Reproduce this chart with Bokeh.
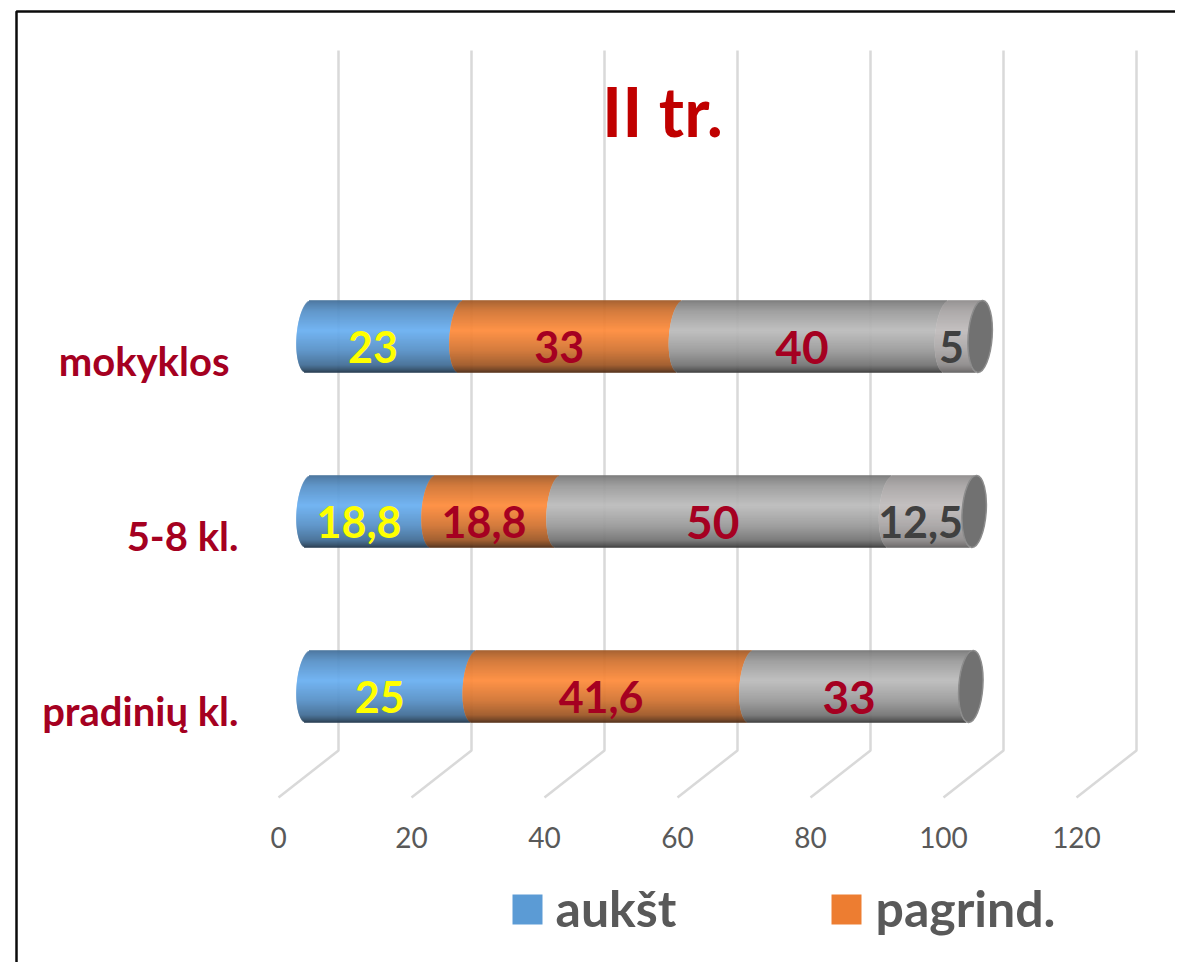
import numpy as np
from bokeh.plotting import figure
from bokeh.models import FixedTicker, Range1d
from bokeh.core.properties import value
from bokeh.embed import file_html
from bokeh.resources import INLINE

# ---- data ----
categories = ["pradinių kl.", "5-8 kl.", "mokyklos"]
aukst = [25, 18.8, 23]
pagrind = [41.6, 18.8, 33]
third = [33, 50, 40]
fourth = [0, 12.5, 5]
x_ticks = [0, 20, 40, 60, 80, 100, 120]
title_text = "II tr."
legend_names = ["aukšt", "pagrind."]

# ---- styling ----
FONT = value("Lato")
series = [aukst, pagrind, third, fourth]
peak = [(106, 176, 242), (255, 140, 60), (188, 188, 188), (192, 188, 188)]
shade_flatten = [1.0, 1.0, 1.0, 0.7]
label_colors = ["#FFFF00", "#A50021", "#A50021", "#404040"]
label_sizes = ["43px", "43px", "46px", "43px"]

W, H = 1175, 962
PX_X = 6.65          # pixels per x unit
PX_Y = 175.0         # pixels per category
X0_PAGE, Y0_PAGE = 278.0, 710.0   # picture position of data (0, 0)


def fx(px):
    return (px - X0_PAGE) / PX_X


def fy(py):
    return (Y0_PAGE - py) / PX_Y


p = figure(width=W, height=H, output_backend="svg", toolbar_location=None,
           x_range=Range1d(fx(0), fx(W)), y_range=Range1d(fy(H), fy(0)),
           min_border=0, outline_line_color=None, background_fill_color="white",
           border_fill_color="white")
p.yaxis.visible = False
p.grid.visible = False

# border of the picture
p.line([fx(16), fx(16), fx(W)], [fy(H), fy(11), fy(11)], line_color="#0b0b0b", line_width=2.5)

# 3-D "wall" gridlines
DX = 60 / PX_X
DY = 47 / PX_Y
GRID_TOP, GRID_BACK, GRID_FRONT = fy(50), fy(750), fy(797)
p.multi_line([[t, t + DX, t + DX] for t in x_ticks],
             [[GRID_FRONT, GRID_BACK, GRID_TOP] for _ in x_ticks],
             line_color="#D9D9D9", line_width=2.5)

# x axis
p.xaxis.fixed_location = fy(815)
p.xaxis.ticker = FixedTicker(ticks=x_ticks)
p.xaxis.axis_line_color = None
p.xaxis.major_tick_line_color = None
p.xaxis.minor_tick_line_color = None
p.xaxis.major_label_text_font = "Lato"
p.xaxis.major_label_text_font_size = "28px"
p.xaxis.major_label_text_color = "#595959"
p.xaxis.major_label_standoff = 5

# cylinders
BAR_X = DX / 2
BAR_Y = DY / 2 + 0.003
BAR_H = 72 / PX_Y
N = 72
t = (np.arange(N) + 0.5) / N                  # 0 = top of bar, 1 = bottom
shade = np.interp(t, [0, 0.05, 0.15, 0.42, 0.7, 0.9, 0.97, 1.0],
                  [0.62, 0.70, 0.82, 1.0, 0.82, 0.62, 0.42, 0.30])
bulge = 12.0 / PX_X * np.sqrt(1 - (2 * t - 1) ** 2)
skew = 2.5 / PX_X * (1 - 2 * t)


def hexcol(rgb, k):
    return "#%02x%02x%02x" % tuple(int(min(255, c * k)) for c in rgb)


for row in range(len(categories)):
    left = 0.0
    yc = row + BAR_Y
    ys = yc + BAR_H * (0.5 - t)
    for s, vals in enumerate(series):
        v = vals[row]
        if v:
            ks = 1 - (1 - shade) * shade_flatten[s]
            p.hbar(y=ys, height=BAR_H / N * 1.35,
                   left=left + BAR_X - bulge + skew,
                   right=left + v + BAR_X - bulge + skew,
                   fill_color=[hexcol(peak[s], k) for k in ks], line_color=None)
        left += v
    p.ellipse(x=[left + BAR_X], y=[yc], width=24 / PX_X, height=BAR_H, angle=-0.07,
              fill_color="#717171", line_color="#8c8c8c", line_width=1.5)

# data labels
LX = -12 / PX_X
LY = -11 / PX_Y
for s, vals in enumerate(series):
    xs, ys, txt = [], [], []
    for row, v in enumerate(vals):
        if v:
            start = sum(series[k][row] for k in range(s))
            xs.append(start + v / 2 + BAR_X + LX)
            ys.append(row + BAR_Y + LY)
            txt.append(f"{v:g}".replace(".", ","))
    p.text(x=xs, y=ys, text=txt, text_font=FONT, text_font_style="bold",
           text_font_size=label_sizes[s], text_color=label_colors[s],
           text_align="center", text_baseline="middle")

# category labels
label_right = [fx(238), fx(238), fx(229)]
p.text(x=label_right, y=list(range(len(categories))), text=categories, text_font=FONT,
       text_font_style="bold", text_font_size="40px", text_color="#A50021",
       text_align="right", text_baseline="middle")

# title
p.text(x=[fx(662)], y=[fy(110)], text=[title_text], text_font=FONT, text_font_style="bold",
       text_font_size="68px", text_color="#C00000", text_align="center", text_baseline="middle")

# legend
p.rect(x=[fx(527), fx(846)], y=[fy(909), fy(909)], width=30, height=30,
       width_units="screen", height_units="screen",
       fill_color=["#5B9BD5", "#ED7D31"], line_color=None)
p.text(x=[fx(555), fx(875)], y=[fy(907), fy(907)], text=legend_names, text_font=FONT,
       text_font_style="bold", text_font_size="50px", text_color="#595959",
       text_align="left", text_baseline="middle")

open("out.html", "w").write(file_html(p, INLINE))
